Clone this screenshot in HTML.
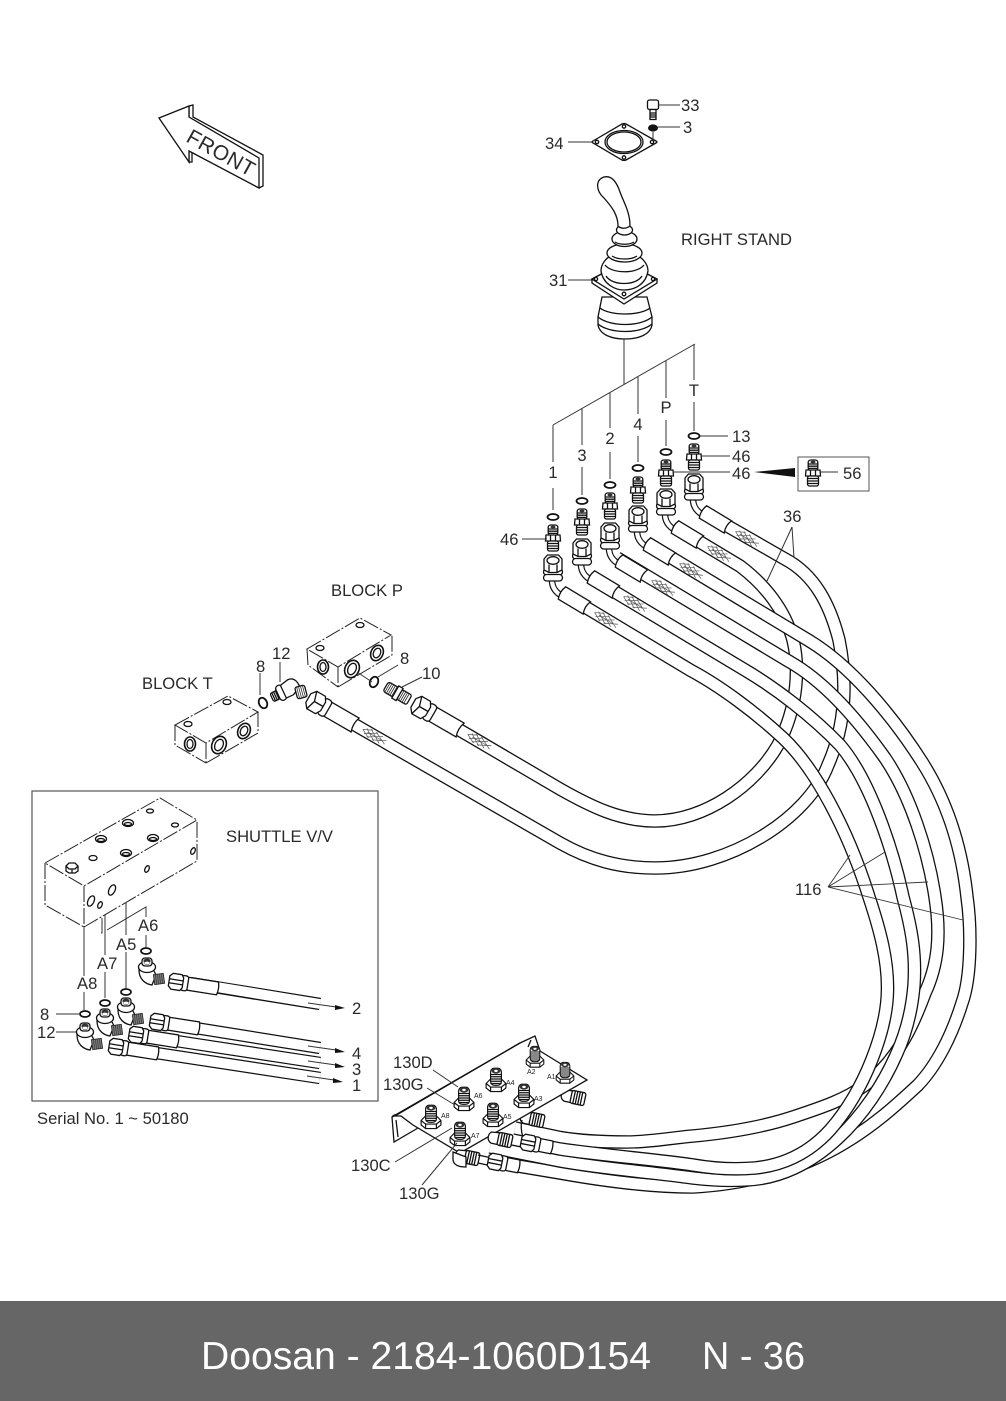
<!DOCTYPE html>
<html>
<head>
<meta charset="utf-8">
<style>
html,body{margin:0;padding:0;background:#fff}
svg{display:block}
text{font-family:"Liberation Sans",sans-serif;font-size:16.6px;fill:#2a2a2a}
.c{text-anchor:middle}
.hb{stroke:#111;stroke-width:13.6;fill:none}
.hw{stroke:#fff;stroke-width:11;fill:none}
.l{stroke:#333;stroke-width:1;fill:none}
.k{stroke:#111;stroke-width:1.3;fill:#fff}
.n{stroke:#111;stroke-width:1.3;fill:none}
.d{stroke:#222;stroke-width:1;fill:none;stroke-dasharray:16 2 2 2}
.t{font-size:7px;fill:#222}
</style>
</head>
<body>
<svg width="1006" height="1401" viewBox="0 0 1006 1401" xmlns="http://www.w3.org/2000/svg">
<defs>
<path id="pT" d="M703,512 L785,559 C815,575 830,605 839,640 C846,675 848,720 828,765 C808,818 730,868 655,868 C620,868 590,860 560,843 L317,703"/>
<path id="pP" d="M675,527 L740,566 C765,585 785,610 793,640 C799,665 799,705 778,745 C755,785 705,821 655,821 C620,821 590,806 560,789 L422,708"/>
<path id="h4" d="M647,543 L808,640 C850,665 892,715 922,762 C948,803 962,850 967,897 C971,925 972,975 962,1003 C952,1035 937,1065 918,1085 C875,1125 815,1180 693,1187 C650,1187 605,1181 560,1173 L500,1163"/>
<path id="h3" d="M617,558 L790,662 C825,682 858,720 885,758 C910,795 928,850 935,897 C941,935 938,965 925,993 C915,1020 900,1058 865,1085 C845,1100 820,1108 793,1117 C760,1128 725,1133 693,1136 C670,1138 650,1142 627,1142 C600,1142 580,1141 560,1137.5 L515,1128"/>
<path id="h2" d="M590,577 L745,670 C777,689 812,716 840,745 C870,780 893,850 903,897 C912,930 916,955 914,985 C912,1010 906,1033 897,1053 C870,1115 815,1178 745,1180 C725,1181 710,1180 693,1178 C650,1172 605,1169 560,1161 L490,1147"/>
<path id="h1" d="M562,593 L690,670 C720,686 755,712 783,738 C815,768 848,830 869,897 C880,930 888,960 887.5,990 C887,1030 865,1090 830,1130 C810,1152 785,1165 755,1168 C730,1170 710,1168 693,1165 C660,1160 600,1155 560,1149 L535,1144"/>

<g id="hatch" stroke="#555" stroke-width=".7" fill="none">
<path d="M-13,0 L-4,-4.5 M-10,3 L2,-4.5 M-6,4.5 L8,-4 M0,4.5 L13,-2 M-13,0 L-4,4.5 M-10,-3 L2,4.5 M-6,-4.5 L8,4 M0,-4.5 L13,2 M-8,0 L8,0"/>
</g>

<g id="nut">
<rect class="k" x="-9.5" y="1" width="19" height="6" rx="3" stroke-width="1.7"/>
<rect class="k" x="-9.5" y="6.5" width="19" height="6.5" rx="3.2" stroke-width="1.7"/>
<path class="k" d="M-9,-9 L-5.5,-13 L5.5,-13 L9,-9 L9,2 L4,4.5 L-4,4.5 L-9,2 Z" stroke-width="1.6"/>
<ellipse class="k" cx="0" cy="-7.5" rx="6" ry="3.8" stroke-width="1.5"/>
<path class="n" d="M-4,-3.5 V4 M4,-3.5 V4"/>
</g>

<g id="fit">
<rect class="k" x="-4.8" y="-13" width="9.6" height="10.5" rx="2.5"/>
<path class="n" d="M-4.8,-9 h9.6 M-4.8,-6.8 h9.6 M-4.8,-4.6 h9.6"/>
<path class="k" d="M-7,-3 L7,-3 L7.5,3 L-7.5,3 Z"/>
<path class="n" d="M-2.5,-3 V3 M2.5,-3 V3"/>
<rect class="k" x="-5.5" y="3" width="11" height="10" rx="2"/>
<path class="n" d="M-5.5,5.5 h11 M-5.5,8 h11 M-5.5,10.5 h11"/>
<ellipse cx="0" cy="-11" rx="2.5" ry="1.4" fill="#333"/>
</g>

<g id="assy">
<path d="M-1,12 C-1,19 2,24 9,28" stroke="#111" stroke-width="6.6" fill="none"/>
<path d="M-1,12 C-1,19 2,24 9,28" stroke="#fff" stroke-width="4.2" fill="none"/>
<g transform="translate(9,25) rotate(31)">
<path class="k" d="M0,-7.2 L29,-7.2 Q26,0 29,7.2 L0,7.2 Q-3,0 0,-7.2 Z" stroke-width="1.5"/>
<use href="#hatch" x="51" y="0"/>
</g>
<use href="#nut"/>
</g>

<g id="bn">
<path class="k" d="M12,-8 L44,-8 Q41,0 44,8 L12,8 Z" stroke-width="1.5"/>
<rect class="k" x="5" y="-9" width="8" height="18" rx="3" stroke-width="1.5"/>
<path class="k" d="M-10,-5 L-6,-10 L4,-10 L7,-5 L7,5 L4,10 L-6,10 L-10,5 Z" stroke-width="1.6"/>
<path class="n" d="M-6,-10 L-3,0 L-6,10 M-3,0 H7"/>
<use href="#hatch" x="66" y="0"/>
</g>

<g id="sn">
<path class="k" d="M8,-6.5 L41,-6.5 Q43,0 41,6.5 L8,6.5 Z" stroke-width="1.4"/>
<rect class="k" x="4" y="-7.5" width="7" height="15" rx="2.5" stroke-width="1.5"/>
<path class="k" d="M-8,-5 L-5,-8 L4,-8 L6,-5 L6,5 L4,8 L-5,8 L-8,5 Z" stroke-width="1.5"/>
<path class="n" d="M-8,-2 H6 M-8,2 H6"/>
</g>

<g id="sn2">
<path class="k" d="M8,-6.5 L23,-6.5 Q25,0 23,6.5 L8,6.5 Z" stroke-width="1.4"/>
<rect class="k" x="4" y="-7.5" width="7" height="15" rx="2.5" stroke-width="1.5"/>
<path class="k" d="M-8,-5 L-5,-8 L4,-8 L6,-5 L6,5 L4,8 L-5,8 L-8,5 Z" stroke-width="1.5"/>
<path class="n" d="M-8,-2 H6 M-8,2 H6"/>
</g>

<g id="elb">
<path class="k" d="M-8,3 C-8,12 -2,17 5,18 L9,8 L6,2 Z" stroke-width="1.4"/>
<g transform="translate(12,12) rotate(-8)"><rect x="-5" y="-5" width="10" height="10" fill="#777" stroke="#222" stroke-width=".8"/><path d="M-3,-5 V5 M-1,-5 V5 M1,-5 V5 M3,-5 V5" stroke="#333" stroke-width=".6"/></g>
<ellipse class="k" cx="0" cy="0" rx="8.5" ry="5.5" stroke-width="1.5"/>
<rect class="k" x="-5" y="-9" width="10" height="8" rx="3"/>
<ellipse cx="0" cy="-6" rx="3.6" ry="2.4" fill="#333"/>
<ellipse cx="0" cy="-4" rx="3" ry="1.6" fill="#fff" stroke="#333" stroke-width=".5"/>
</g>

<g id="pf">
<path class="k" d="M-11,5 L-6,0 L6,0 L11,5 L11,10 L6,14 L-6,14 L-11,10 Z" stroke-width="1.5"/>
<path class="n" d="M-11,5 L-6,9 L6,9 L11,5 M-6,9 V14 M6,9 V14"/>
<rect class="k" x="-6" y="-12" width="12" height="19" rx="4"/>
<path class="n" d="M-6,-5 h12 M-6,-2.5 h12 M-6,0 h12 M-6,2.5 h12 M-6,5 h12"/>
<ellipse cx="0" cy="-9" rx="5" ry="3" fill="#333"/>
<ellipse cx="0" cy="-9" rx="2" ry="1.3" fill="#fff"/>
</g>

<g id="th">
<path class="k" d="M-15,-5 C-18,-2 -18,4 -13,6 L-6,6 L-6,-6 Z" stroke-width="1.3"/>
<rect class="k" x="-7" y="-6.5" width="14" height="13" rx="2"/>
<path class="n" d="M-4,-6.5 V6.5 M-1.5,-6.5 V6.5 M1,-6.5 V6.5 M3.5,-6.5 V6.5"/>
</g>
</defs>

<rect width="1006" height="1401" fill="#fff"/>

<!-- FRONT arrow -->
<path class="k" d="M189,106 L193,105 L193,117 L263,155 L263,186 L259,188 L192,151 L192,162 L189,162 Z" stroke-width="1.5"/>
<path class="k" d="M159,118 L189,106 L189,117 L259,158 L259,188 L189,151 L189,162 Z" stroke-width="1.7"/>
<text transform="translate(185,141) rotate(29)" style="font-size:21px;letter-spacing:.5px">FRONT</text>

<!-- top plate 34 -->
<path class="k" d="M593,141 L622,124 Q624,123 626,124 L656,141 Q658,142 656,143 L626,160 Q624,161 622,160 L593,143 Q591,142 593,141 Z" stroke-width="1.6"/>
<ellipse class="n" cx="624" cy="142" rx="19" ry="11.5" stroke-width="1.5"/>
<ellipse class="n" cx="624" cy="142" rx="17" ry="10" stroke-width=".8"/>
<circle class="n" cx="624" cy="126.5" r="1.7"/><circle class="n" cx="624" cy="157.5" r="1.7"/><circle class="n" cx="597" cy="142" r="1.7"/><circle class="n" cx="652" cy="142" r="1.7"/>
<!-- bolt 33 -->
<rect class="k" x="647.5" y="100" width="11" height="9.5" rx="2"/>
<rect class="k" x="650" y="109.5" width="6" height="10"/>
<path class="n" d="M650,113 h6 M650,115 h6 M650,117 h6"/>
<ellipse cx="653" cy="128" rx="5" ry="3.6" fill="#111"/>
<path class="l" d="M653,132 V141 M658,105 H680 M657,127 H680 M568,142 H592 M568,280 H592"/>
<text x="681" y="111">33</text><text x="683" y="133">3</text><text x="545" y="149">34</text><text x="549" y="286">31</text>
<text x="681" y="245">RIGHT STAND</text>

<!-- joystick -->
<path class="k" d="M602,297 L598,317 L598,325 C600,335 612,339 625,339 C638,339 650,335 652,325 L652,317 L647,297 Z" stroke-width="1.6"/>
<path class="n" d="M600,308 C610,316 640,316 650,308 M598,317 C610,327 640,327 652,317 M598,324 C610,334 640,334 652,324" stroke-width="1"/>
<path class="k" d="M592,279 L592,283 L624,304 L657,283 L657,279 L624,262 Z" stroke-width="1.6"/>
<path class="k" d="M592,279 L624,262 L657,279 L624,299 Z" stroke-width="1.6"/>
<circle class="n" cx="596" cy="279" r="1.6"/><circle class="n" cx="653" cy="279" r="1.6"/><circle class="n" cx="624" cy="294" r="1.8"/>
<path class="k" d="M601,271 C603,284 615,290 624,290 C635,290 646,284 648,271 C648,262 640,257 637,255 L612,255 C606,258 601,264 601,271 Z" stroke-width="1.4"/>
<path class="n" d="M606,276 C612,286 636,286 642,276 M605,265 C612,274 637,274 644,265" stroke-width=".9"/>
<ellipse class="k" cx="624.5" cy="253" rx="17.5" ry="9" stroke-width="1.4"/>
<ellipse class="k" cx="624.5" cy="239" rx="12.5" ry="7.5" stroke-width="1.4"/>
<path class="n" d="M612,256 C618,260 631,260 637,256 M615,242 C620,245 629,245 634,242" stroke-width=".9"/>
<ellipse class="k" cx="624.5" cy="230" rx="8" ry="5" stroke-width="1.4"/>
<path class="k" d="M618,226 C618,215 612,207 604,198 C596,191 595,180 604,177 C612,175 617,183 620,192 C624,203 630,212 630,226 C626,229 621,229 618,226 Z" stroke-width="1.4"/>

<!-- bracket lines -->
<path class="l" d="M624,339 V384 M553,425 L695,344 M553,425 V462 M553,488 V510 M582,408 V445 M582,467 V495 M610,393 V428 M610,452 V479 M638,377 V414 M638,436 V462 M666,361 V398 M666,420 V446 M694,344 V380 M694,402 V431"/>
<g class="c"><text class="c" x="553" y="478">1</text><text class="c" x="582" y="461">3</text><text class="c" x="610" y="444">2</text><text class="c" x="638" y="430">4</text><text class="c" x="666" y="413">P</text><text class="c" x="694" y="396">T</text></g>

<!-- hoses -->
<use href="#pT" class="hb"/><use href="#pT" class="hw"/>
<use href="#pP" class="hb"/><use href="#pP" class="hw"/>
<use href="#h4" class="hb"/><use href="#h4" class="hw"/>
<use href="#h3" class="hb"/><use href="#h3" class="hw"/>
<use href="#h2" class="hb"/><use href="#h2" class="hw"/>
<use href="#h1" class="hb"/><use href="#h1" class="hw"/>

<!-- top connector assemblies -->
<use href="#assy" x="694" y="487"/>
<use href="#assy" x="666" y="502"/>
<use href="#assy" x="638" y="519"/>
<use href="#assy" x="610" y="536"/>
<use href="#assy" x="582" y="552"/>
<use href="#assy" x="553" y="568"/>
<use href="#fit" x="694" y="457"/><use href="#fit" x="666" y="473"/><use href="#fit" x="638" y="490"/><use href="#fit" x="610" y="506"/><use href="#fit" x="582" y="522"/><use href="#fit" x="553" y="538"/>
<g fill="#fff" stroke="#111" stroke-width="1.8">
<ellipse cx="694" cy="436" rx="5.5" ry="3"/><ellipse cx="666" cy="452" rx="5.5" ry="3"/><ellipse cx="638" cy="468" rx="5.5" ry="3"/><ellipse cx="610" cy="485" rx="5.5" ry="3"/><ellipse cx="582" cy="501" rx="5.5" ry="3"/><ellipse cx="553" cy="517" rx="5.5" ry="3"/>
</g>
<path class="l" d="M700,436 H728 M702,456 H730 M673,472 H730 M522,539 H547"/>
<text x="732" y="442">13</text><text x="732" y="462">46</text><text x="732" y="479">46</text><text x="500" y="545">46</text>
<path d="M754,472 L795,468 L795,477 Z" fill="#111"/>
<rect x="798" y="457" width="71" height="34" fill="#fff" stroke="#555" stroke-width="1"/>
<use href="#fit" x="813" y="473"/>
<path class="l" d="M820,472 H838"/>
<text x="843" y="479">56</text>
<text x="783" y="522">36</text>
<path class="l" d="M792,527 L767,581 M792,527 L794,558"/>

<!-- leaders 116 -->
<text x="795" y="895">116</text>
<path d="M828,887 L850,855 M828,887 L885,852 M828,887 L928,882 M828,887 L963,920" stroke="#333" stroke-width=".9" fill="none"/>

<!-- Block P -->
<path d="M307,649 L360,618 L391,635 L338,667 Z" fill="#fff" stroke="none"/>
<path d="M307,649 L308,665 L338,687 L392,655 L391,635 Z" fill="#fff" stroke="none"/>
<path class="d" d="M307,649 L360,618 L391,635 L338,667 Z M307,649 L308,665 L338,687 M338,667 V687 M338,687 L392,655 V635"/>
<g class="n"><ellipse cx="320" cy="648" rx="4" ry="2.5"/><ellipse cx="360" cy="625" rx="4" ry="2.5"/>
<ellipse cx="323" cy="667" rx="5.5" ry="7" stroke-width="1.6"/><ellipse cx="323" cy="667" rx="3" ry="4.5"/>
<ellipse cx="352" cy="669" rx="7" ry="9" stroke-width="1.6" transform="rotate(25 352 669)"/><ellipse cx="352" cy="669" rx="4" ry="6" transform="rotate(25 352 669)"/>
<ellipse cx="377" cy="653" rx="6" ry="8" stroke-width="1.6" transform="rotate(25 377 653)"/><ellipse cx="377" cy="653" rx="3.5" ry="5" transform="rotate(25 377 653)"/></g>
<!-- Block T -->
<path d="M175,725 L228,696 L258,712 L258,733 L206,763 L175,745 Z" fill="#fff"/>
<path class="d" d="M175,725 L228,696 L258,712 L206,743 Z M175,725 V745 L206,763 M206,743 V763 M206,763 L258,733 V712"/>
<g class="n"><ellipse cx="188" cy="724" rx="4" ry="2.5"/><ellipse cx="227" cy="702" rx="4" ry="2.5"/>
<ellipse cx="190" cy="744" rx="5.5" ry="7" stroke-width="1.6"/><ellipse cx="190" cy="744" rx="3" ry="4.5"/>
<ellipse cx="219" cy="745" rx="7" ry="9" stroke-width="1.6" transform="rotate(25 219 745)"/><ellipse cx="219" cy="745" rx="4" ry="6" transform="rotate(25 219 745)"/>
<ellipse cx="244" cy="731" rx="6" ry="8" stroke-width="1.6" transform="rotate(25 244 731)"/><ellipse cx="244" cy="731" rx="3.5" ry="5" transform="rotate(25 244 731)"/></g>
<text x="331" y="596">BLOCK P</text><text x="142" y="689">BLOCK T</text>
<!-- block parts -->
<ellipse cx="263" cy="703" rx="4" ry="5.5" fill="#fff" stroke="#111" stroke-width="1.8" transform="rotate(-25 263 703)"/>
<ellipse cx="374" cy="682" rx="4" ry="5.5" fill="#fff" stroke="#111" stroke-width="1.8" transform="rotate(25 374 682)"/>
<g transform="translate(287,690) rotate(-25)">
<rect class="k" x="-17" y="-4" width="8" height="9" rx="2" stroke-width="1.6"/>
<path class="n" d="M-15,-4 V5 M-13,-4 V5 M-11,-4 V5"/>
<rect class="k" x="-10" y="-8" width="7" height="16" rx="3.4" stroke-width="1.5"/>
<path class="k" d="M-4,-7 L5,-9 C11,-9 13,-4 13,2 L4,7 L-4,7 Z" stroke-width="1.3"/>
</g>
<g transform="translate(301,692) rotate(-15)"><rect class="k" x="-5" y="-6" width="10" height="12" rx="2"/><path d="M-3,-6 V6 M-1,-6 V6 M1,-6 V6 M3,-6 V6" stroke="#333" stroke-width=".8"/></g>
<g transform="translate(397,693) rotate(30)">
<rect class="k" x="-13" y="-5.5" width="12" height="11" rx="2.5"/><path d="M-11,-5 V5 M-9,-5 V5 M-7,-5 V5 M-5,-5 V5 M-3,-5 V5" stroke="#222" stroke-width=".8"/>
<path class="k" d="M-2,-7 L3,-7 L3,7 L-2,7 Z"/>
<rect class="k" x="3" y="-5.5" width="11" height="11" rx="2"/><path d="M5,-5 V5 M7,-5 V5 M9,-5 V5 M11,-5 V5" stroke="#222" stroke-width=".8"/>
</g>
<use href="#bn" transform="translate(317,703) rotate(30)"/>
<use href="#bn" transform="translate(422,708) rotate(30)"/>
<path class="l" d="M280,662 V682 M260,673 V695 M398,665 L378,677 M422,677 L402,687 M357,672 L372,682"/>
<text x="272" y="659">12</text><text x="256" y="672">8</text><text x="400" y="664">8</text><text x="422" y="679">10</text>

<!-- Shuttle box -->
<rect x="32" y="791" width="346" height="310" fill="none" stroke="#555" stroke-width="1.2"/>
<path d="M45,863 L160,798 L197,820 V861 L84,927 L45,905 Z" fill="#fff"/>
<path class="d" d="M45,863 L160,798 L197,820 L84,886 Z M45,863 V905 L84,927 M84,886 V927 M84,927 L197,861 V820"/>
<g class="n" stroke-width="1">
<ellipse cx="150" cy="811" rx="3.5" ry="2"/><ellipse cx="128" cy="823" rx="5.5" ry="3.5"/><ellipse cx="128" cy="824" rx="3.5" ry="1.5"/><ellipse cx="175" cy="825" rx="3.5" ry="2"/>
<ellipse cx="101" cy="839" rx="5.5" ry="3.5"/><ellipse cx="101" cy="840" rx="3.5" ry="1.5"/><ellipse cx="153" cy="838" rx="5.5" ry="3.5"/><ellipse cx="153" cy="839" rx="3.5" ry="1.5"/>
<ellipse cx="93" cy="858" rx="4" ry="2.5"/><ellipse cx="126" cy="853" rx="5.5" ry="3.5"/><ellipse cx="126" cy="854" rx="3.5" ry="1.5"/>
<ellipse cx="91" cy="901" rx="3" ry="5.5" transform="rotate(25 91 901)"/><ellipse cx="100" cy="905" rx="2" ry="3.5" transform="rotate(25 100 905)"/><ellipse cx="112" cy="890" rx="3" ry="5.5" transform="rotate(25 112 890)"/><ellipse cx="147" cy="869" rx="2" ry="3.5" transform="rotate(25 147 869)"/><ellipse cx="193" cy="851" rx="2" ry="3.5" transform="rotate(25 193 851)"/>
</g>
<path class="k" d="M66,866 L69,863 L75,863 L78,866 L78,871 L75,873 L69,873 L66,871 Z"/>
<path class="n" d="M66,866 L69,869 L75,869 L78,866 M72,869 V873"/>
<text x="226" y="842">SHUTTLE V/V</text>
<text x="37" y="1124">Serial No. 1 ~ 50180</text>

<path class="l" d="M84,927 V976 M84,992 V1010 M105,915 V955 M105,972 V998 M126,903 V935 M126,952 V988 M102,918 V933 L101,933 M107,930 L146,907 V917 M146,935 V947 M56,1014 H79 M56,1032 H76"/>
<text x="77" y="989">A8</text><text x="97" y="969">A7</text><text x="116" y="950">A5</text><text x="138" y="931">A6</text>
<text x="40" y="1020">8</text><text x="37" y="1038">12</text>

<!-- shuttle hoses -->
<path d="M190,983 L320,1004" stroke="#111" stroke-width="12.5" fill="none"/><path d="M180,981 L320,1004" stroke="#fff" stroke-width="10" fill="none"/>
<use href="#sn" transform="translate(177,982) rotate(9)"/>
<path d="M158,1022 L320,1048" stroke="#111" stroke-width="12.5" fill="none"/><path d="M158,1022 L320,1048" stroke="#fff" stroke-width="10" fill="none"/>
<use href="#sn" transform="translate(158,1022) rotate(9)"/>
<path d="M137,1035 L320,1063" stroke="#111" stroke-width="12.5" fill="none"/><path d="M137,1035 L320,1063" stroke="#fff" stroke-width="10" fill="none"/>
<use href="#sn" transform="translate(137,1035) rotate(9)"/>
<path d="M117,1047 L320,1078" stroke="#111" stroke-width="12.5" fill="none"/><path d="M117,1047 L320,1078" stroke="#fff" stroke-width="10" fill="none"/>
<use href="#sn" transform="translate(117,1047) rotate(9)"/>
<use href="#elb" x="147" y="967"/><use href="#elb" x="126" y="1007"/><use href="#elb" x="105" y="1018"/><use href="#elb" x="85" y="1032"/>
<g fill="#fff" stroke="#111" stroke-width="1.7"><ellipse cx="146" cy="951" rx="5" ry="3"/><ellipse cx="126" cy="992" rx="5" ry="3"/><ellipse cx="105" cy="1003" rx="5" ry="3"/><ellipse cx="85" cy="1014" rx="5" ry="3"/></g>
<path class="l" d="M308,1003 L336,1007 M308,1046 L336,1050 M308,1061 L336,1065 M307,1076 L334,1080"/>
<path d="M345,1008 L335,1010 L335,1005 Z M345,1052 L335,1053 L335,1048 Z M345,1067 L335,1068 L335,1063 Z M343,1082 L333,1083 L333,1078 Z" fill="#111"/>
<text x="352" y="1014">2</text><text x="352" y="1059">4</text><text x="352" y="1075">3</text><text x="352" y="1091">1</text>

<!-- bottom plate -->
<use href="#th" transform="translate(578,1098) rotate(12)"/>
<use href="#th" transform="translate(537,1120) rotate(12)"/>
<path class="n" d="M522,1120 Q520,1127 523,1138" />
<path class="k" d="M392,1117 C394,1114 398,1114 401,1116 L418,1128 L394,1142 Z" stroke-width="1.5"/>
<path class="n" d="M396,1120 L398,1137" stroke-width="1"/>
<path class="k" d="M395,1116 L520,1043 L535,1036 L540,1051 L587,1080 L460,1153 L413,1125 L401,1116 Z" stroke-width="1.7"/>
<path class="n" d="M392,1117 L520,1043 M531,1040 L528,1047" stroke-width="1.4"/>
<use href="#th" transform="translate(505,1140) rotate(12)"/>
<use href="#sn2" transform="translate(529,1143) rotate(11)"/>
<use href="#th" transform="translate(472,1158) rotate(12)"/>
<path class="n" d="M478,1155 L492,1158 M478,1163 L492,1166"/>
<use href="#sn2" transform="translate(496,1162) rotate(11)"/>
<path class="k" d="M453,1152 L453,1160 C454,1166 460,1167 466,1167 L466,1157 Z" stroke-width="1.2"/>
<use href="#pf" transform="translate(464,1098) scale(.9)"/><use href="#pf" transform="translate(496,1079) scale(.9)"/><use href="#pf" transform="translate(524,1095) scale(.9)"/><use href="#pf" transform="translate(493,1114) scale(.9)"/><use href="#pf" transform="translate(431,1116) scale(.9)"/><use href="#pf" transform="translate(460,1133) scale(.9)"/>
<use href="#pf" transform="translate(535,1056) scale(.8)"/><use href="#pf" transform="translate(565,1072) scale(.8)"/>
<text class="t" x="474" y="1098">A6</text><text class="t" x="506" y="1085">A4</text><text class="t" x="534" y="1101">A3</text><text class="t" x="503" y="1119">A5</text><text class="t" x="441" y="1118">A8</text><text class="t" x="471" y="1138">A7</text><text class="t" x="527" y="1074">A2</text><text class="t" x="547" y="1079">A1</text>
<path class="l" d="M433,1070 L458,1087 M427,1088 L455,1105 M395,1162 L452,1128 M422,1185 L457,1143"/>
<text x="393" y="1068">130D</text><text x="383" y="1090">130G</text><text x="351" y="1171">130C</text><text x="399" y="1199">130G</text>

<!-- footer -->
<rect x="0" y="1301" width="1006" height="100" fill="#666"/>
<text x="201" y="1369" textLength="450" lengthAdjust="spacingAndGlyphs" style="font-size:39px;fill:#fff">Doosan - 2184-1060D154</text>
<text x="702" y="1369" textLength="103" lengthAdjust="spacingAndGlyphs" style="font-size:39px;fill:#fff">N - 36</text>
</svg>
</body>
</html>
